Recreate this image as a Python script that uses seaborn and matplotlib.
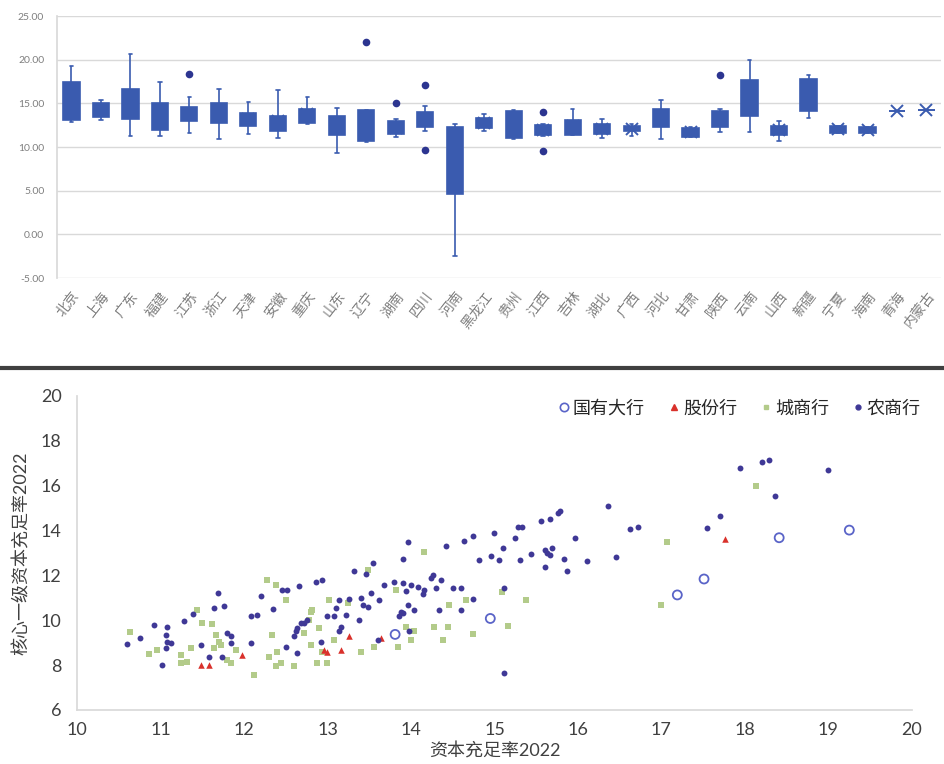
import numpy as np
import pandas as pd
import matplotlib
matplotlib.use("Agg")
import matplotlib.pyplot as plt
from matplotlib.lines import Line2D
import seaborn as sns

# ---------------- data: top panel (box stats by province) ----------------
provinces = ['北京', '上海', '广东', '福建', '江苏', '浙江', '天津', '安徽', '重庆', '山东',
             '辽宁', '湖南', '四川', '河南', '黑龙江', '贵州', '江西', '吉林', '湖北', '广西',
             '河北', '甘肃', '陕西', '云南', '山西', '新疆', '宁夏', '海南', '青海', '内蒙古']
whisker_low = [12.9, 13.1, 11.3, 11.3, 11.6, 10.9, 11.5, 11.0, 12.6, 9.3,
               10.6, 11.1, 11.8, -2.5, 11.8, 10.9, 11.3, 11.4, 11.0, 11.3,
               10.9, 11.1, 11.7, 11.7, 10.7, 13.3, 11.65, 11.6, 14.1, 14.3]
q1 = [13.1, 13.4, 13.2, 12.0, 13.0, 12.8, 12.4, 11.8, 12.8, 11.4,
      10.7, 11.5, 12.3, 4.6, 12.2, 11.0, 11.4, 11.4, 11.5, 11.8,
      12.3, 11.2, 12.3, 13.5, 11.4, 14.1, 11.65, 11.6, 14.1, 14.3]
median = [14.6, 14.3, 14.8, 13.5, 13.8, 14.0, 13.1, 12.7, 13.5, 12.5,
          12.0, 12.2, 13.1, 8.5, 12.8, 12.5, 12.0, 12.2, 12.1, 12.1,
          13.3, 11.7, 13.0, 15.5, 11.9, 16.0, 12.0, 12.0, 14.1, 14.3]
q3 = [17.4, 15.1, 16.7, 15.1, 14.6, 15.0, 13.9, 13.6, 14.4, 13.5,
      14.2, 13.0, 14.0, 12.3, 13.3, 14.1, 12.5, 13.1, 12.6, 12.45,
      14.4, 12.2, 14.1, 17.7, 12.45, 17.8, 12.4, 12.35, 14.1, 14.3]
whisker_high = [19.3, 15.4, 20.6, 17.5, 15.7, 16.6, 15.2, 16.5, 15.7, 14.5,
                14.25, 13.2, 14.75, 12.65, 13.8, 14.2, 12.6, 14.4, 13.2, 12.65,
                15.4, 12.25, 14.4, 20.0, 13.0, 18.2, 12.4, 12.35, 14.1, 14.3]
outlier_province = ['江苏', '辽宁', '湖南', '四川', '四川', '江西', '江西', '陕西']
outlier_value = [18.4, 22.0, 15.1, 17.05, 9.7, 14.0, 9.6, 18.2]
top_yticks = [-5, 0, 5, 10, 15, 20, 25]

# ---------------- data: bottom panel (scatter) ----------------
soe_x = [13.81, 14.95, 17.19, 17.51, 18.41, 19.25]
soe_y = [9.37, 10.08, 11.13, 11.84, 13.68, 14.02]

jsb_x = [11.48, 11.58, 11.98, 12.96, 13.0, 13.16, 13.26, 13.64, 17.76]
jsb_y = [8.01, 8.01, 8.43, 8.68, 8.6, 8.68, 9.28, 9.2, 13.62]

city_x = [10.63, 10.86, 10.96, 11.24, 11.24, 11.32, 11.36, 11.44, 11.5, 11.62,
          11.66, 11.64, 11.7, 11.72, 11.8, 11.84, 11.9, 12.12, 12.28, 12.38,
          12.34, 12.3, 12.4, 12.44, 12.38, 12.5, 12.6, 12.72, 12.78, 12.8,
          12.82, 12.9, 12.8, 12.88, 13.0, 13.02, 13.08, 12.94, 13.24, 13.4,
          13.56, 13.48, 13.82, 13.84, 13.94, 14.0, 14.04, 14.16, 14.28, 14.38,
          14.44, 14.46, 14.66, 14.74, 15.09, 15.16, 15.38, 16.99, 17.07, 18.13]
city_y = [9.46, 8.5, 8.68, 8.46, 8.09, 8.16, 8.76, 10.47, 9.87, 9.84,
          9.35, 8.76, 9.05, 8.9, 8.23, 8.09, 8.68, 7.56, 11.78, 11.58,
          9.35, 8.38, 8.6, 8.09, 7.94, 10.9, 7.94, 9.43, 10.02, 10.39,
          10.47, 9.65, 8.9, 8.09, 8.09, 10.9, 9.13, 8.6, 10.76, 8.6,
          8.83, 12.26, 11.36, 8.83, 9.72, 9.13, 9.5, 13.03, 9.72, 9.13,
          9.72, 10.69, 10.9, 9.38, 11.24, 9.75, 10.91, 10.69, 13.51, 16.0]

rural_x = [10.6, 10.76, 10.92, 11.08, 11.07, 11.08, 11.12, 11.07, 11.02, 11.28,
           11.39, 11.48, 11.58, 11.64, 11.69, 11.76, 11.74, 11.8, 11.84, 11.84,
           12.08, 12.08, 12.15, 12.2, 12.35, 12.46, 12.52, 12.66, 12.5, 12.6,
           12.62, 12.64, 12.68, 12.64, 12.72, 12.75, 12.86, 12.94, 12.92, 13.0,
           13.08, 13.1, 13.14, 13.16, 13.14, 13.26, 13.22, 13.32, 13.4, 13.42,
           13.48, 13.46, 13.54, 13.52, 13.62, 13.38, 13.6, 13.68, 13.8, 13.9,
           13.96, 13.9, 13.94, 13.96, 13.88, 13.86, 14.04, 14.0, 14.08, 14.16,
           14.14, 14.26, 14.24, 14.3, 14.36, 14.34, 14.42, 14.5, 14.6, 14.6,
           14.64, 14.74, 14.74, 14.82, 13.98, 13.9,
           15.0, 15.24, 15.28, 15.33, 15.56, 15.67, 15.76, 15.79, 15.96, 15.1,
           14.96, 15.05, 15.3, 15.44, 15.6, 15.63, 15.69, 15.66, 15.61, 15.83,
           15.87, 16.11, 16.36, 16.46, 16.62, 16.72, 17.54, 17.7, 17.94, 18.21,
           18.29, 18.36, 19.0, 15.12, 15.12]
rural_y = [8.95, 9.2, 9.78, 9.68, 9.35, 9.05, 9.0, 8.75, 8.0, 9.95,
           10.29, 8.9, 8.38, 10.54, 11.21, 10.62, 8.38, 9.43, 9.32, 8.98,
           8.98, 10.17, 10.24, 11.06, 10.5, 11.33, 11.36, 11.51, 8.8, 9.28,
           9.5, 9.65, 9.87, 8.53, 9.9, 10.02, 11.7, 11.8, 9.05, 10.17,
           10.17, 10.54, 10.9, 9.72, 9.5, 10.97, 10.24, 12.18, 11.0, 10.69,
           10.57, 12.07, 12.55, 11.21, 10.9, 10.02, 9.13, 11.58, 11.72, 12.75,
           13.48, 11.66, 11.29, 10.69, 10.39, 10.17, 10.47, 11.58, 11.48, 11.36,
           11.18, 12.03, 11.88, 11.44, 11.81, 10.47, 13.3, 11.44, 11.44, 10.47,
           13.52, 13.74, 10.94, 12.7, 9.5, 10.32,
           13.89, 13.66, 14.15, 14.18, 14.41, 14.53, 14.78, 14.85, 13.66, 13.22,
           12.88, 12.67, 12.67, 12.95, 13.14, 13.02, 13.22, 12.92, 12.37, 12.73,
           12.2, 12.65, 15.08, 12.8, 14.07, 14.18, 14.11, 14.63, 16.79, 17.06,
           17.16, 15.52, 16.68, 7.64, 11.43]

series_names = ['国有大行', '股份行', '城商行', '农商行']

# ---------------- style ----------------
sns.set_theme(style="white")
plt.rcParams['font.family'] = ['Lato', 'Noto Sans CJK SC', 'DejaVu Sans']
plt.rcParams['axes.unicode_minus'] = False

BOX_COLOR = '#3A5BAF'
OUT_COLOR = '#2C3590'
GRID = '#D9D9D9'

fig = plt.figure(figsize=(9.45, 7.64), dpi=100)

# ---------------- top panel ----------------
ax1 = fig.add_axes([0.060, 0.636, 0.936, 0.343])
rows = []
for p, lo, a, m, b, hi in zip(provinces, whisker_low, q1, median, q3, whisker_high):
    for v in (lo, a, a, m, b, b, hi):
        rows.append((p, v))
box_df = pd.DataFrame(rows, columns=['province', 'value'])
sns.boxplot(data=box_df, x='province', y='value', order=provinces, ax=ax1,
            whis=(0, 100), width=0.55, color=BOX_COLOR, saturation=1,
            linecolor=BOX_COLOR, linewidth=1.2, showfliers=False,
            showmeans=True, capwidths=0.12,
            meanprops=dict(marker='x', markeredgecolor=BOX_COLOR, markersize=8,
                           markeredgewidth=1.4))
out_df = pd.DataFrame({'province': outlier_province, 'value': outlier_value})
sns.stripplot(data=out_df, x='province', y='value', order=provinces, ax=ax1,
              jitter=False, color=OUT_COLOR, size=5.5, linewidth=0)
ax1.set_ylim(-5, 25)
ax1.set_xlim(-0.5, len(provinces) - 0.5)
ax1.set_yticks(top_yticks)
ax1.set_yticklabels([f'{v:.2f}' for v in top_yticks])
ax1.yaxis.grid(True, color=GRID, linewidth=1.0)
ax1.set_axisbelow(True)
ax1.set_xlabel('')
ax1.set_ylabel('')
for s in ['top', 'right', 'bottom']:
    ax1.spines[s].set_visible(False)
ax1.spines['left'].set_color(GRID)
ax1.tick_params(axis='y', length=0, pad=9, labelsize=7.5, labelcolor='#7F7F7F')
ax1.tick_params(axis='x', length=0, pad=8, labelsize=10, labelcolor='#7F7F7F')
plt.setp(ax1.get_xticklabels(), rotation=52, ha='right', va='top',
         rotation_mode='anchor')

# separator line
fig.add_artist(Line2D([0, 1], [0.518, 0.518], transform=fig.transFigure,
                      color='#404040', linewidth=3))

# ---------------- bottom panel ----------------
ax2 = fig.add_axes([0.0815, 0.0707, 0.8835, 0.411])
c_soe, c_jsb, c_city, c_rural = '#5A64C8', '#D9312B', '#B3CB8A', '#3F3896'
sns.scatterplot(x=city_x, y=city_y, ax=ax2, marker='s', s=14, color=c_city,
                linewidth=0, label=series_names[2], zorder=3)
sns.scatterplot(x=jsb_x, y=jsb_y, ax=ax2, marker='^', s=22, color=c_jsb,
                linewidth=0, label=series_names[1], zorder=4)
sns.scatterplot(x=rural_x, y=rural_y, ax=ax2, marker='o', s=18, color=c_rural,
                linewidth=0, label=series_names[3], zorder=4)
sns.scatterplot(x=soe_x, y=soe_y, ax=ax2, marker='o', s=42, facecolor='none',
                edgecolor=c_soe, linewidth=1.3, label=series_names[0], zorder=5)
ax2.set_xlim(10, 20)
ax2.set_ylim(6, 20)
ax2.set_xticks(range(10, 21))
ax2.set_yticks(range(6, 21, 2))
for s in ['top', 'right']:
    ax2.spines[s].set_visible(False)
ax2.spines['left'].set_color('#D9D9D9')
ax2.spines['bottom'].set_color('#D9D9D9')
ax2.tick_params(axis='both', length=0, labelsize=13, labelcolor='#404040')
ax2.tick_params(axis='y', pad=11)
ax2.tick_params(axis='x', pad=9)
ax2.set_xlabel('资本充足率2022', fontsize=13, color='#404040', labelpad=3)
ax2.set_ylabel('核心一级资本充足率2022', fontsize=13, color='#404040', labelpad=8)

handles = [
    Line2D([], [], linestyle='none', marker='o', markersize=6, markerfacecolor='none',
           markeredgecolor=c_soe, markeredgewidth=1.2),
    Line2D([], [], linestyle='none', marker='^', markersize=4, color=c_jsb),
    Line2D([], [], linestyle='none', marker='s', markersize=3, color=c_city),
    Line2D([], [], linestyle='none', marker='o', markersize=3.5, color=c_rural),
]
ax2.legend(handles, series_names, ncol=4, frameon=False, loc='upper right',
           bbox_to_anchor=(1.03, 1.04), fontsize=13, handletextpad=0.1,
           columnspacing=1.2, handlelength=0.8, labelcolor='#262626')

fig.savefig('out.png', dpi=100)
